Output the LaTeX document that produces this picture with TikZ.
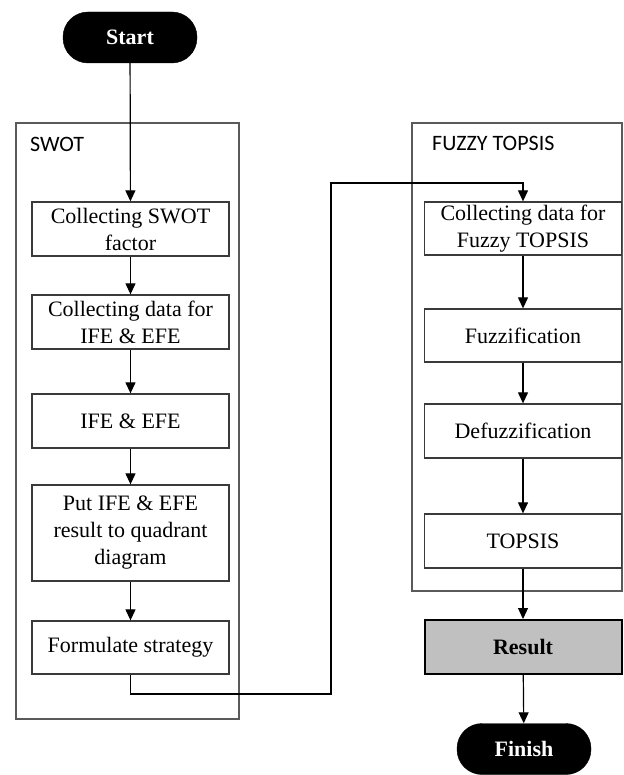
\documentclass[tikz,border=0pt]{standalone}
\usepackage{fontspec}
\setmainfont{Liberation Serif}
\newfontfamily\labelfont{Carlito}
\usetikzlibrary{arrows.meta}
\definecolor{boxline}{HTML}{3A3A3A}
\definecolor{frameline}{HTML}{5A5A5A}
\definecolor{resultfill}{HTML}{C0C0C0}
\begin{document}
\begin{tikzpicture}[x=1pt,y=-1pt,
  procbox/.style={rectangle, draw=boxline, line width=1.3pt, minimum width=197pt, inner sep=0pt, align=center, font=\fontsize{22}{27}\selectfont},
  terminal/.style={rectangle, rounded corners=25pt, fill=black, draw=black, text=white, minimum width=134pt, minimum height=51pt, inner sep=0pt, font=\fontsize{22}{27}\selectfont\bfseries},
  frame/.style={rectangle, draw=frameline, line width=1.3pt, inner sep=0pt},
  framelabel/.style={anchor=west, inner sep=0pt, font=\labelfont\fontsize{22}{26}\selectfont},
  flow/.style={draw=black, line width=1.2pt, -{Triangle[width=10pt,length=11pt]}}
]
\useasboundingbox (0,0) rectangle (623,775);

% containers
\node[frame, minimum width=223pt, minimum height=596pt] (swot) at (127.5,421) {};
\node[frame, minimum width=210pt, minimum height=468pt] (fuzzy) at (517,357) {};
\node[framelabel] (swotlbl) at (30,144) {SWOT};
\node[framelabel] (fuzzylbl) at (432,143) {FUZZY TOPSIS};

% terminals
\node[terminal] (start) at (130,37.5) {Start};
\node[terminal] (finish) at (524,749) {Finish};

% SWOT steps
\node[procbox, minimum height=54pt] (b1) at (130.5,229) {Collecting SWOT\\factor};
\node[procbox, minimum height=54pt] (b2) at (130.5,322) {Collecting data for\\IFE \& EFE};
\node[procbox, minimum height=54pt] (b3) at (130.5,421) {IFE \& EFE};
\node[procbox, minimum height=96pt] (b4) at (130.5,533) {Put IFE \& EFE\\result to quadrant\\diagram};
\node[procbox, minimum height=53pt] (b5) at (130.5,647.5) {Formulate strategy};

% Fuzzy TOPSIS steps
\node[procbox, minimum height=53pt] (f1) at (523,228.5) {Collecting data for\\Fuzzy TOPSIS};
\node[procbox, minimum height=53pt] (f2) at (523,335.5) {Fuzzification};
\node[procbox, minimum height=54pt] (f3) at (523,431) {Defuzzification};
\node[procbox, minimum height=54pt] (f4) at (523,541) {TOPSIS};
\node[procbox, minimum height=54pt, fill=resultfill, draw=black, line width=2pt, font=\fontsize{22}{27}\selectfont\bfseries] (result) at (523,647) {Result};

% routing points
\coordinate (r1) at (130.5,694);
\coordinate (r2) at (331,694);
\coordinate (r3) at (331,183);
\coordinate (r4) at (523,183);

% connectors
\draw[flow] (start) -- (b1);
\draw[flow] (b1) -- (b2);
\draw[flow] (b2) -- (b3);
\draw[flow] (b3) -- (b4);
\draw[flow] (b4) -- (b5);
\draw[flow] (b5.south) -- (r1) -- (r2) -- (r3) -- (r4) -- (f1.north);
\draw[flow] (f1) -- (f2);
\draw[flow] (f2) -- (f3);
\draw[flow] (f3) -- (f4);
\draw[flow] (f4) -- (result);
\draw[flow] (result) -- (finish);
\end{tikzpicture}
\end{document}
